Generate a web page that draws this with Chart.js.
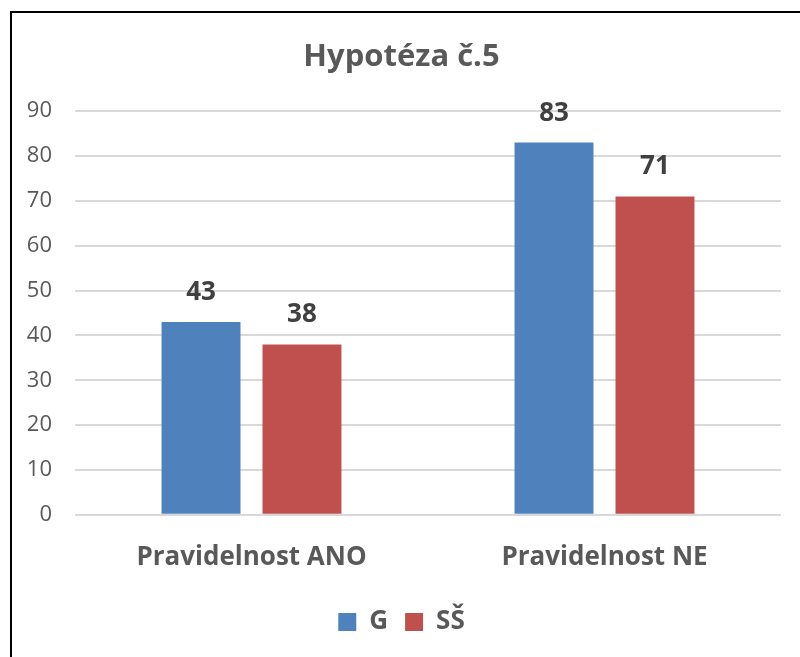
<!DOCTYPE html>
<html>
<head>
<meta charset="utf-8">
<script src="https://cdn.jsdelivr.net/npm/chart.js@4/dist/chart.umd.min.js"></script>
<style>
  body { margin: 0; background: #fff; overflow: hidden; }
  #frame { position: absolute; left: 10px; top: 11px; width: 900px; height: 800px;
           border-left: 2px solid #000; border-top: 2px solid #000; }
  #wrap { position: absolute; left: 0; top: 0; width: 800px; height: 657px; }
</style>
</head>
<body>
<div id="frame"></div>
<div id="wrap"><canvas id="chart"></canvas></div>
<script>
// data
const kategorie = ['Pravidelnost ANO', 'Pravidelnost NE'];
const hodnotyG = [43, 83];
const hodnotySS = [38, 71];
const nazvySerii = ['G', 'SŠ'];

const FONT = '"Open Sans", sans-serif';
const SEDA = '#595959';

// popisky hodnot nad sloupci
const popiskyPlugin = {
    id: 'popisky',
    afterDatasetsDraw(chart) {
        const ctx = chart.ctx;
        ctx.save();
        ctx.font = 'bold 26px ' + FONT;
        ctx.fillStyle = '#404040';
        ctx.textAlign = 'center';
        ctx.textBaseline = 'alphabetic';
        chart.data.datasets.forEach((ds, i) => {
            chart.getDatasetMeta(i).data.forEach((bar, j) => {
                ctx.fillText(ds.data[j], bar.x, bar.y - 22);
            });
        });
        ctx.restore();
    }
};

new Chart(document.getElementById('chart'), {
    type: 'bar',
    data: {
        labels: kategorie,
        datasets: [
            { label: nazvySerii[0], data: hodnotyG, backgroundColor: '#4F81BD' },
            { label: nazvySerii[1], data: hodnotySS, backgroundColor: '#C0504D' }
        ]
    },
    options: {
        responsive: true,
        maintainAspectRatio: false,
        animation: false,
        categoryPercentage: 0.572,
        barPercentage: 0.782,
        layout: { padding: { left: 22, right: 19, top: 39, bottom: 12 } },
        scales: {
            x: {
                grid: { display: false },
                border: { display: false },
                ticks: { color: SEDA, font: { family: FONT, size: 26, weight: 'bold' }, padding: 19 }
            },
            y: {
                min: 0, max: 90,
                ticks: { stepSize: 10, color: SEDA, font: { family: FONT, size: 22 }, padding: 23 },
                grid: { color: '#d9d9d9', lineWidth: 2, drawTicks: false },
                border: { display: false },
                afterFit(scale) { scale.width = 53; }
            }
        },
        plugins: {
            title: {
                display: true,
                text: 'Hypotéza č.5',
                color: SEDA,
                font: { family: FONT, size: 31, weight: 'bold' },
                padding: { top: 0, bottom: 35 }
            },
            legend: {
                position: 'bottom',
                labels: {
                    color: SEDA,
                    font: { family: FONT, size: 26, weight: 'bold' },
                    boxWidth: 18, boxHeight: 18, padding: 17
                }
            },
            tooltip: { enabled: false }
        }
    },
    plugins: [popiskyPlugin]
});
</script>
</body>
</html>
